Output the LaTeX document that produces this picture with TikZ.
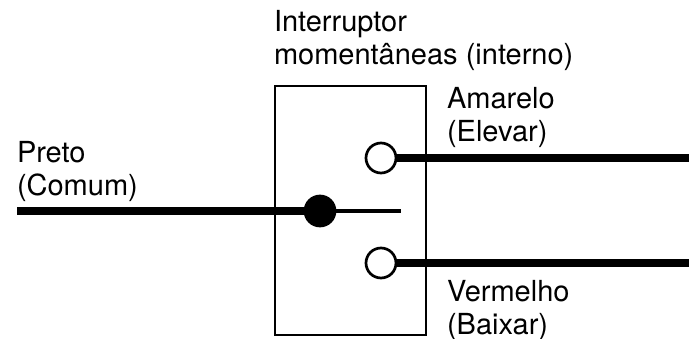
\documentclass[tikz,border=0pt]{standalone}
\usepackage{fontspec}
\setmainfont{TeX Gyre Heros}
\begin{document}
\begin{tikzpicture}[x=1pt,y=-1pt]
  \tikzset{ContactStyle/.style = {shape        = circle,
                                  draw         = black,
                                  line width   = 2.7pt,
                                  fill         = white,
                                  inner sep    = 0pt,
                                  outer sep    = 0pt,
                                  minimum size = 30pt}}
  \tikzset{PivotStyle/.style   = {ContactStyle,
                                  fill         = black}}
  \tikzset{BoxStyle/.style     = {draw         = black,
                                  line width   = 2.7pt,
                                  inner sep    = 0pt,
                                  outer sep    = 0pt,
                                  minimum width  = 151pt,
                                  minimum height = 249pt}}
  \tikzset{WireStyle/.style    = {line width   = 8pt}}
  \tikzset{ArmStyle/.style     = {line width   = 4pt}}
  \tikzset{LabelStyle/.style   = {align        = left,
                                  anchor       = north west,
                                  inner sep    = 0pt,
                                  outer sep    = 0pt,
                                  font         = \fontsize{29}{33}\selectfont}}

\useasboundingbox (0,0) rectangle (689,339);

\coordinate (W1) at (17,211);
\coordinate (W2) at (689,158);
\coordinate (W3) at (689,263);
\coordinate (E1) at (401,211);

\node[BoxStyle] (box) at (350.5,210.5) {};

\node[PivotStyle]   (P1) at (320,211) {};
\node[ContactStyle] (K1) at (381,158) {};
\node[ContactStyle] (K2) at (381,263) {};

\draw[WireStyle] (W1) -- (P1);
\draw[WireStyle] (K1) -- (W2);
\draw[WireStyle] (K2) -- (W3);
\draw[ArmStyle] (P1) -- (E1);

\node[LabelStyle] (title)    at (274,10)  {Interruptor\\momentâneas (interno)};
\node[LabelStyle] (preto)    at (17,141)  {Preto\\(Comum)};
\node[LabelStyle] (amarelo)  at (447,87)  {Amarelo\\(Elevar)};
\node[LabelStyle] (vermelho) at (447,280) {Vermelho\\(Baixar)};
\end{tikzpicture}
\end{document}
